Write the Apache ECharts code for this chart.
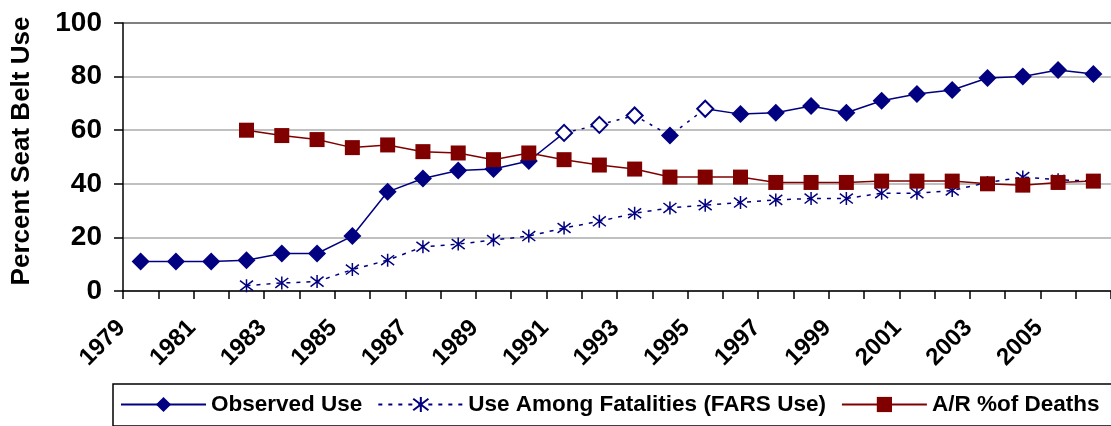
<!DOCTYPE html>
<html>
<head>
<meta charset="utf-8">
<script src="https://cdn.jsdelivr.net/npm/echarts@6/dist/echarts.min.js"></script>
<style>
html,body{margin:0;padding:0;background:#fff;}
#chart{width:1111px;height:426px;}
</style>
</head>
<body>
<div id="chart"></div>
<script>
var years = ['1979','1980','1981','1982','1983','1984','1985','1986','1987','1988','1989','1990','1991','1992','1993','1994','1995','1996','1997','1998','1999','2000','2001','2002','2003','2004','2005','2006'];
var observedUse = [11,11,11,11.5,14,14,20.5,37,42,45,45.5,48.5,59,62,65.5,58,68,66,66.5,69,66.5,71,73.5,75,79.5,80,82.5,81];
var estimatedYears = ['1991','1992','1993','1995'];
var dashedFrom = '1991', dashedTo = '1995';
var farsUse = [null,null,null,2,3,3.5,8,11.5,16.5,17.5,19,20.5,23.5,26,29,31,32,33,34,34.5,34.5,36.5,36.5,37.5,40.5,42.5,41.5,41];
var arDeaths = [null,null,null,60,58,56.5,53.5,54.5,52,51.5,49,51.5,49,47,45.5,42.5,42.5,42.5,40.5,40.5,40.5,41,41,41,40,39.5,40.5,41];
var yTicks = [0,20,40,60,80,100];
var seriesNames = ['Observed Use','Use Among Fatalities (FARS Use)','A/R %of Deaths'];

var NAVY = '#000080', RED = '#800000';
var FONT = "'Liberation Sans', Arial, sans-serif";
var ASTER = 'path://M5,0L5,10M1.2,1.2L8.8,8.8M8.8,1.2L1.2,8.8';

var iFrom = years.indexOf(dashedFrom), iTo = years.indexOf(dashedTo);
var solidData = observedUse.map(function (v, i) {
  if (i > iFrom && i < iTo) return null;
  if (i === iFrom || i === iTo) return { value: v, symbol: 'none' };
  return v;
});
var dashData = observedUse.map(function (v, i) {
  if (i < iFrom || i > iTo) return null;
  if (estimatedYears.indexOf(years[i]) >= 0) {
    return { value: v, symbol: 'emptyDiamond', symbolSize: 16, itemStyle: { color: NAVY, borderColor: NAVY, borderWidth: 1.5 } };
  }
  return v;
});

var chart = echarts.init(document.getElementById('chart'), null, { renderer: 'canvas' });
chart.setOption({
  animation: false,
  backgroundColor: '#fff',
  textStyle: { fontFamily: FONT },
  grid: { left: 123, right: -4, top: 23, bottom: 135, containLabel: false },
  legend: {
    data: seriesNames,
    left: 113, top: 384,
    width: 1200,
    padding: [9, 20, 10, 7],
    borderColor: '#000', borderWidth: 1.5,
    itemWidth: 85, itemHeight: 19, itemGap: 15,
    textStyle: { fontFamily: FONT, fontWeight: 'bold', fontSize: 22.5, color: '#000' }
  },
  graphic: [{
    type: 'text', x: 22, y: 151, rotation: Math.PI / 2,
    style: { text: 'Percent Seat Belt Use', font: "bold 26px 'Liberation Sans', Arial, sans-serif", fill: '#000', align: 'center', verticalAlign: 'middle' }
  }],
  xAxis: {
    type: 'category', data: years, boundaryGap: true,
    axisLine: { lineStyle: { color: '#000', width: 1.5 } },
    axisTick: { show: true, interval: 0, length: 8, lineStyle: { color: '#000', width: 1.5 } },
    axisLabel: { interval: 1, rotate: 45, margin: 14, padding: [0, 27, 0, 0], color: '#000', fontWeight: 'bold', fontSize: 24, fontFamily: FONT }
  },
  yAxis: {
    type: 'value', min: 0, max: 100, interval: 20,
    axisLine: { show: true, lineStyle: { color: '#000', width: 1.5 } },
    axisTick: { show: true, length: 9, lineStyle: { color: '#000', width: 1.5 } },
    axisLabel: { margin: 21, color: '#000', fontWeight: 'bold', fontSize: 28, fontFamily: FONT,
      formatter: function (v) { return yTicks.indexOf(v) >= 0 ? String(v) : ''; } },
    splitLine: { show: true, lineStyle: { color: ['#c0c0c0','#c0c0c0','#c0c0c0','#c0c0c0','#c0c0c0','#808080'], width: 2 } }
  },
  series: [
    {
      name: seriesNames[0], type: 'line', data: solidData,
      symbol: 'diamond', symbolSize: 18, connectNulls: false,
      lineStyle: { color: NAVY, width: 1.5 },
      itemStyle: { color: NAVY, borderWidth: 0 }, z: 3
    },
    {
      name: 'Observed Use (estimated)', type: 'line', data: dashData,
      symbol: 'diamond', symbolSize: 18, connectNulls: false,
      lineStyle: { color: NAVY, width: 1.5, type: [3, 6] },
      itemStyle: { color: NAVY, borderWidth: 0 }, z: 3
    },
    {
      name: seriesNames[1], type: 'line', data: farsUse,
      symbol: ASTER, symbolSize: 13,
      lineStyle: { color: NAVY, width: 1.5, type: [4, 6] },
      itemStyle: { color: NAVY, borderColor: NAVY, borderWidth: 1.5 }, z: 2
    },
    {
      name: seriesNames[2], type: 'line', data: arDeaths,
      symbol: 'rect', symbolSize: 15,
      lineStyle: { color: RED, width: 1.5 },
      itemStyle: { color: RED, borderWidth: 0 }, z: 4
    }
  ]
});
</script>
</body>
</html>
